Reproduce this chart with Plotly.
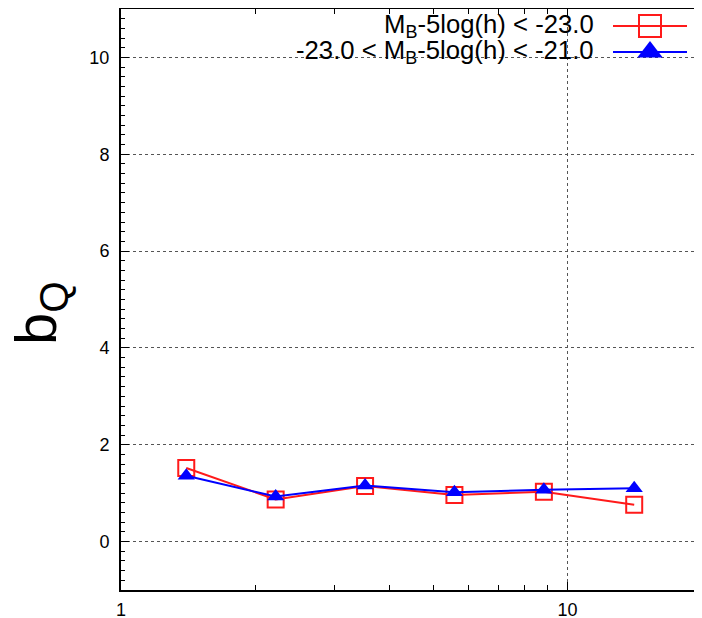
import numpy as np
import plotly.graph_objects as go

# ---- data ----
r_vals = [1.40, 2.22, 3.52, 5.58, 8.85, 14.1]
b_bright = [1.52, 0.87, 1.15, 0.96, 1.03, 0.76]
b_faint = [1.36, 0.93, 1.16, 1.02, 1.07, 1.10]
name_bright = "M<sub>B</sub>-5log(h) < -23.0"
name_faint = "-23.0 < M<sub>B</sub>-5log(h) < -21.0"
y_ticks = [0, 2, 4, 6, 8, 10]
x_ticks = [1, 10]

RED = "#ff1a1a"
BLUE = "#0000ff"
FONT = "Liberation Sans, Arial, Helvetica, sans-serif"

OFF = 8  # default page body margin
W, H = 702 - OFF, 618 - OFF
L, R, T, B = 121 - OFF, 0, 1, 618 - 590 - 1 + 1

fig = go.Figure()

fig.add_trace(go.Scatter(
    x=r_vals, y=b_bright, mode="lines+markers",
    line=dict(color=RED, width=2),
    marker=dict(symbol="square-open", size=16, color=RED, line=dict(width=2, color=RED)),
    showlegend=False,
))
fig.add_trace(go.Scatter(
    x=r_vals, y=b_faint, mode="lines+markers",
    line=dict(color=BLUE, width=2),
    marker=dict(symbol="triangle-up", size=15, color=BLUE, line=dict(width=0)),
    showlegend=False,
))

# ---- manual legend (text right, sample to the right, gnuplot style) ----
def px_x(p):
    return (p - OFF - L) / (W - L - R)

def px_y(p):
    return (H - B - (p - OFF)) / (H - T - B)

rows = [(name_bright, 26, RED, "square-open", 22), (name_faint, 52, BLUE, "triangle-up", 22)]
for text, yy, col, sym, sz in rows:
    fig.add_annotation(
        x=px_x(596), y=px_y(yy), xref="paper", yref="paper",
        text=text, showarrow=False, xanchor="right", yanchor="middle",
        font=dict(family=FONT, size=25.7, color="black"),
    )
    fig.add_shape(type="line", xref="paper", yref="paper",
                  x0=px_x(613), x1=px_x(687), y0=px_y(yy), y1=px_y(yy),
                  line=dict(color=col, width=2))
    fig.add_trace(go.Scatter(
        x=[px_x(650)], y=[px_y(yy)], xaxis="x2", yaxis="y2", mode="markers",
        marker=dict(symbol=sym, size=sz, color=col,
                    line=dict(width=2 if "open" in sym else 0, color=col)),
        showlegend=False, hoverinfo="skip",
    ))

fig.add_annotation(
    x=px_x(40), y=px_y(313), xref="paper", yref="paper",
    text="b<sub>Q</sub>", showarrow=False, textangle=-90,
    font=dict(family=FONT, size=58, color="black"),
    xanchor="center", yanchor="middle",
)

fig.update_layout(
    width=W, height=H,
    margin=dict(l=L, r=R, t=T, b=B, pad=0, autoexpand=False),
    paper_bgcolor="white", plot_bgcolor="white",
    font=dict(family=FONT, size=18, color="black"),
    xaxis=dict(
        type="log", range=[0, np.log10(20)], automargin=False,
        tickvals=x_ticks, ticktext=[str(v) for v in x_ticks],
        ticks="inside", ticklen=8, tickwidth=1, tickcolor="black",
        showline=True, linecolor="black", linewidth=2, mirror="ticks",
        showgrid=True, gridcolor="#555555", griddash="dot", gridwidth=1,
        zeroline=False,
        minor=dict(ticks="inside", ticklen=5, tickcolor="black", dtick="D1", showgrid=False),
        tickfont=dict(size=18), ticklabelstandoff=2,
    ),
    yaxis=dict(
        range=[-1, 11], tickvals=y_ticks, automargin=False,
        ticks="inside", ticklen=8, tickwidth=1, tickcolor="black",
        showline=True, linecolor="black", linewidth=2, mirror="ticks",
        showgrid=True, gridcolor="#555555", griddash="dot", gridwidth=1,
        zeroline=False,
        minor=dict(ticks="inside", ticklen=4, tickcolor="black", dtick=0.2, showgrid=False),
        tickfont=dict(size=18), ticklabelstandoff=6,
    ),
    xaxis2=dict(overlaying="x", range=[0, 1], visible=False, domain=[0, 1]),
    yaxis2=dict(overlaying="y", range=[0, 1], visible=False, domain=[0, 1]),
    showlegend=False,
)

fig.write_html("out.html")
